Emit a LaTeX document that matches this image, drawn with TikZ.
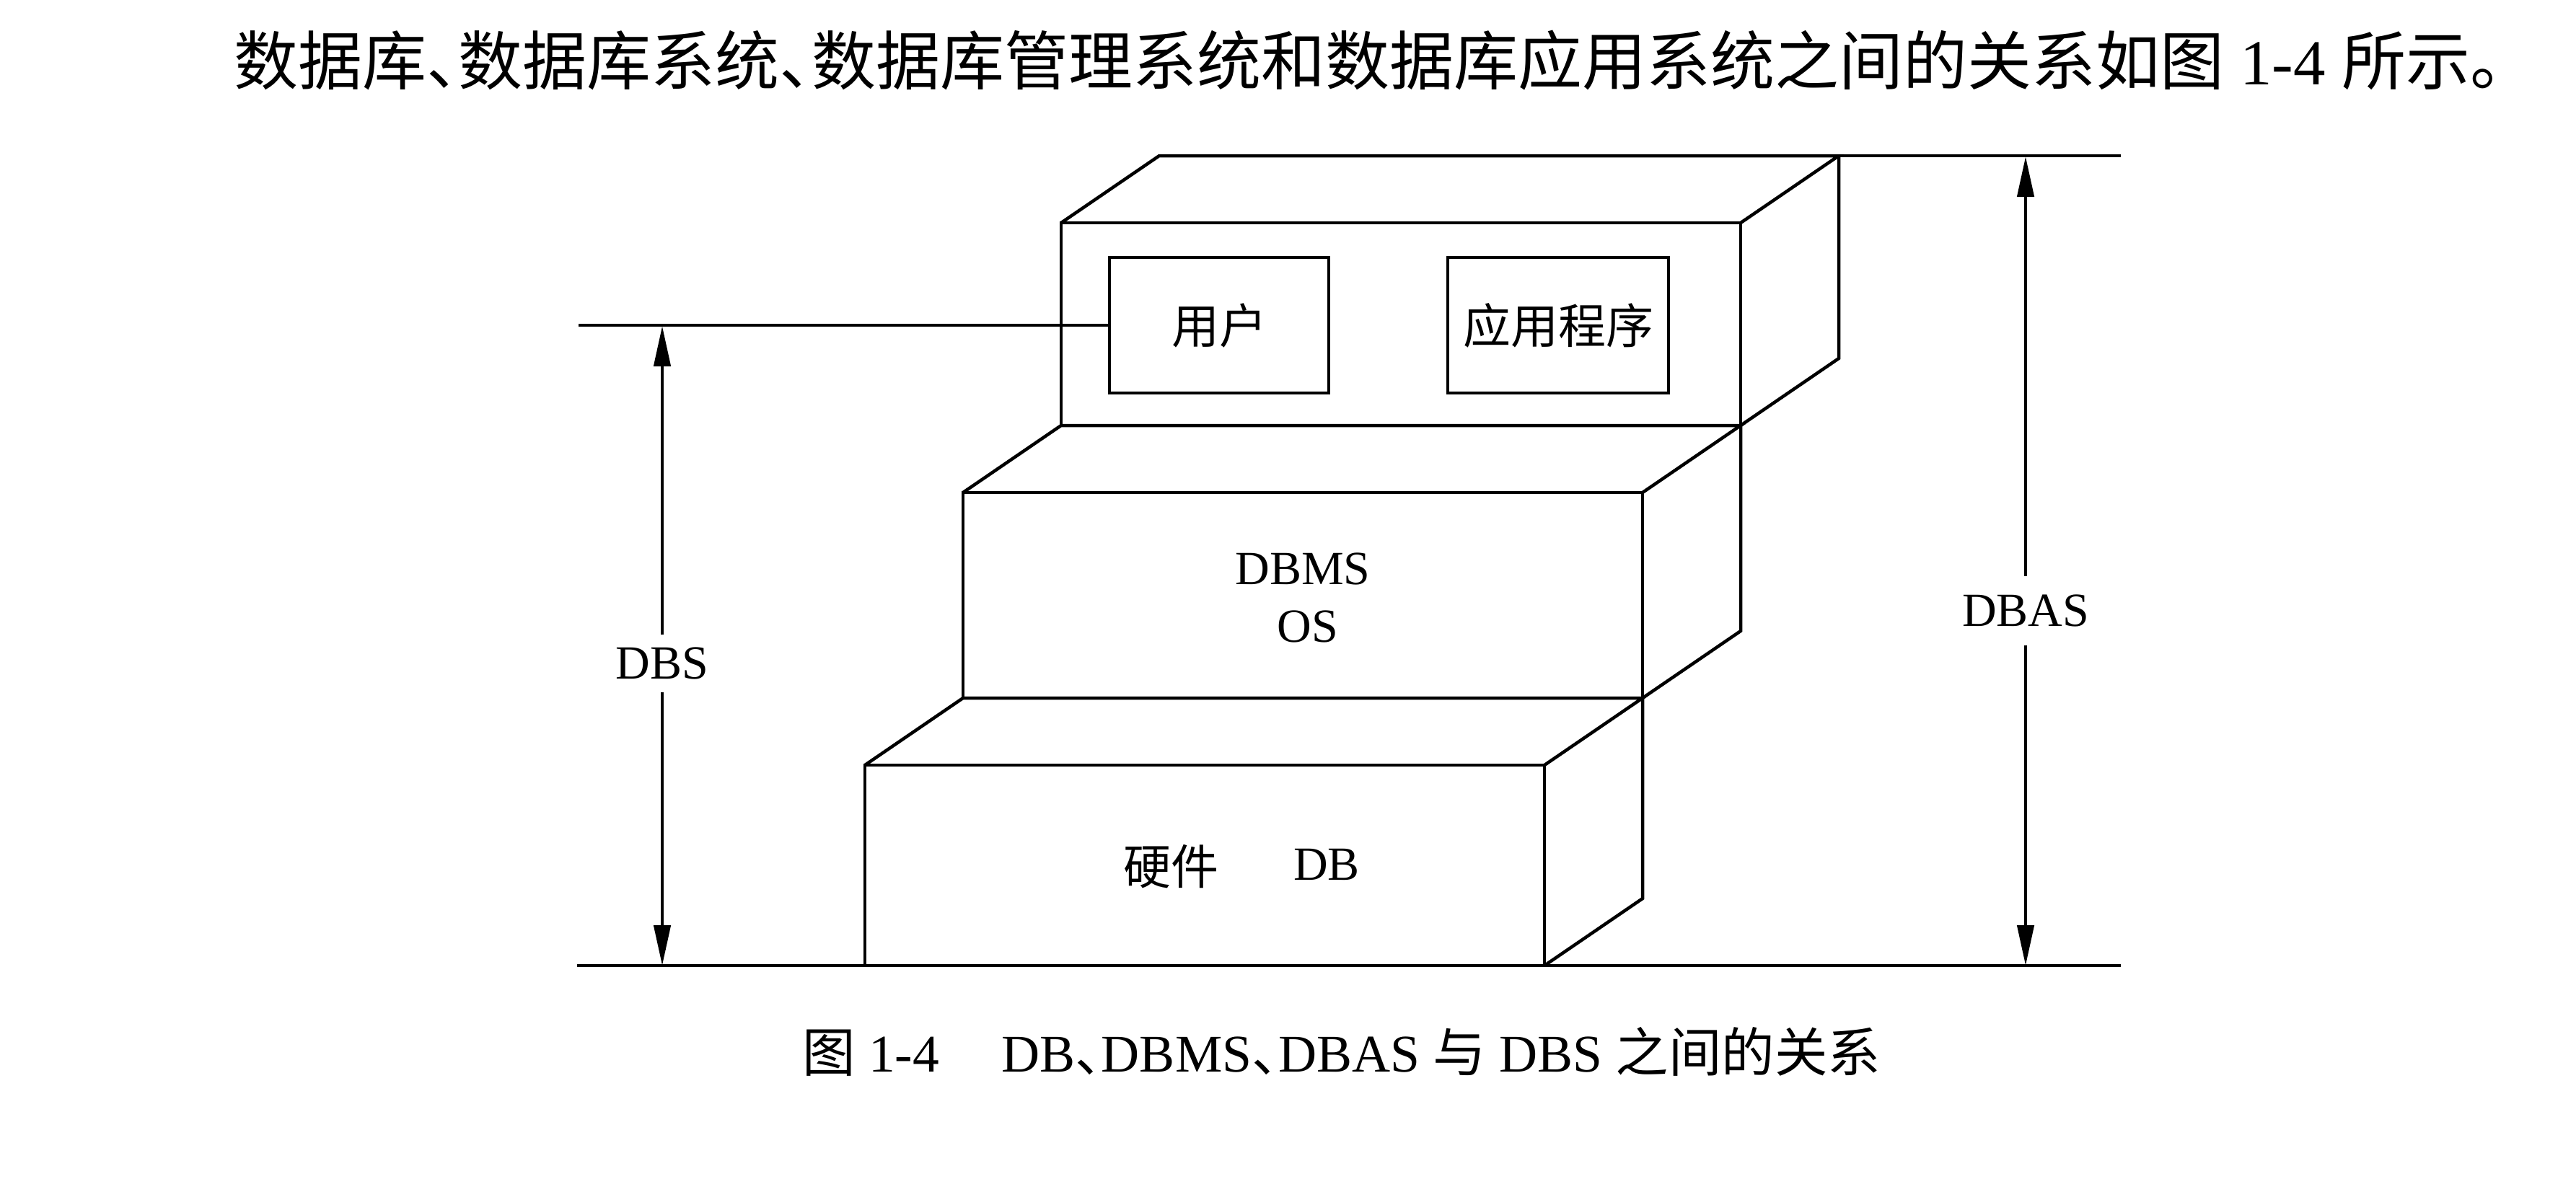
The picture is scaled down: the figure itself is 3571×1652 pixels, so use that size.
\documentclass[tikz,border=0pt]{standalone}
\usepackage{fontspec}
\setmainfont{Liberation Serif}
\newfontfamily\cjkfont[RawFeature=+halt]{Noto Sans CJK SC}
\newfontfamily\cjkfull{Noto Sans CJK SC}
\newcommand\zh[1]{{\cjkfull #1}}
\newcommand\zhp[1]{{\cjkfont #1}}
\usetikzlibrary{arrows.meta,calc}
\begin{document}
\begin{tikzpicture}[x=1pt,y=-1pt,
  face/.style={draw, line width=4.5pt, outer sep=0pt, inner sep=0pt, rectangle},
  edge/.style={line width=4.5pt},
  ext/.style={line width=3.5pt},
  dimarrow/.style={line width=4.5pt, {Triangle[length=56pt,width=23pt]}-{Triangle[length=56pt,width=23pt]}},
  lab/.style={font=\fontsize{66pt}{70pt}\selectfont, inner sep=0pt},
  textline/.style={anchor=base west, inner sep=0pt},
]
\useasboundingbox (0,0) rectangle (3571,1652);

% intro sentence
\node[textline, font=\fontsize{89pt}{95pt}\selectfont] (intro) at (324,117)
  {\zh{数据库}\zhp{、}\zh{数据库系统}\zhp{、}\zh{数据库管理系统和数据库应用系统之间的关系如图} 1-4 \zh{所示。}};

% front faces of the three blocks
\node[face, minimum width=942pt, minimum height=281pt] (top) at (1942,449.5) {};
\node[face, minimum width=942pt, minimum height=285pt] (mid) at (1806,825.5) {};
\node[face, minimum width=942pt, minimum height=278pt] (bot) at (1670,1200) {};

% top block 3D faces
\draw[edge] (top.north west) -- ++(136,-93) -- ($(top.north east)+(136,-93)$) coordinate (topBR) -- (top.north east);
\draw[edge] (topBR) -- ++(0,281) -- (top.south east);
% middle block
\draw[edge] (mid.north west) -- ++(136,-93) -- ($(mid.north east)+(136,-93)$) coordinate (midBR) -- (mid.north east);
\draw[edge] (midBR) -- ++(0,285) -- (mid.south east);
% bottom block
\draw[edge] (bot.north west) -- ++(136,-93) -- ($(bot.north east)+(136,-93)$) coordinate (botBR) -- (bot.north east);
\draw[edge] (botBR) -- ++(0,278) -- (bot.south east);

% inner boxes
\node[face, lab, minimum width=304pt, minimum height=188pt] (user) at (1690,451) {\zh{用户}};
\node[face, lab, minimum width=306pt, minimum height=188pt] (app) at (2160,451) {\zh{应用程序}};

% labels in blocks
\node[lab, anchor=base] (dbms) at (1806,810) {DBMS};
\node[lab, anchor=base] (os) at (1813,890) {OS};
\node[lab, anchor=base] (hw) at (1623,1226) {\zh{硬件}};
\node[lab, anchor=base] (db) at (1839,1220) {DB};

% extension lines
\coordinate (userL) at (802,451);
\coordinate (topR) at (2940,216);
\coordinate (baseL) at (800,1339);
\coordinate (baseR) at (2940,1339);
\draw[ext] (userL) -- (user.west);
\draw[ext] (topBR) -- (topR);
\draw[ext] (baseL) -- (baseR);

% dimension arrows
\coordinate (dbsT) at (918,452);
\coordinate (dbsB) at (918,1339);
\coordinate (dbasT) at (2808,217);
\coordinate (dbasB) at (2808,1339);
\draw[dimarrow] (dbsT) -- (dbsB);
\draw[dimarrow] (dbasT) -- (dbasB);
\node[lab, fill=white, inner xsep=4pt, inner ysep=18pt] (dbs) at (918,920) {DBS};
\node[lab, fill=white, inner xsep=4pt, inner ysep=26pt] (dbas) at (2808,847) {DBAS};

% caption
\node[textline, font=\fontsize{73.5pt}{78pt}\selectfont] (caption) at (1112,1486)
  {\zh{图} 1-4\hspace{86pt}DB\zhp{、}DBMS\zhp{、}DBAS \zh{与} DBS \zh{之间的关系}};
\end{tikzpicture}
\end{document}
